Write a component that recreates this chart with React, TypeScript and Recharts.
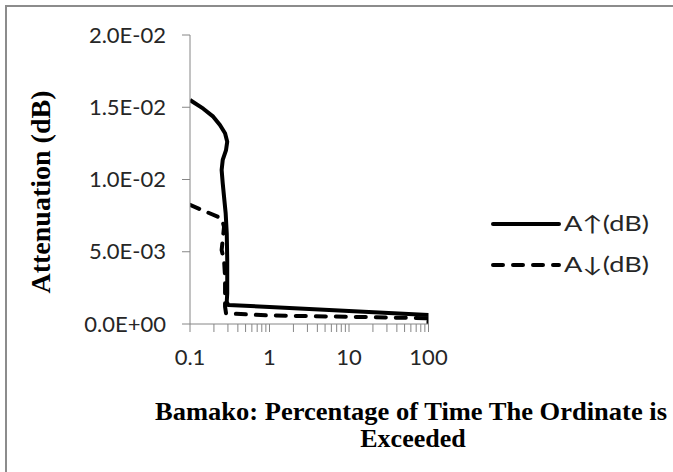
import React from "react"
import { LineChart, Line, XAxis, YAxis, Label } from "recharts"

// percentage of time (x) vs attenuation in dB (y)
const upPercent = [0.1, 0.147, 0.196, 0.238, 0.276, 0.294, 0.284, 0.258, 0.25, 0.258, 0.268, 0.281, 0.29, 0.294, 0.294, 0.29, 0.303, 1, 10, 100, 100]
const upAtten = [0.0155, 0.0149, 0.01435, 0.01377, 0.0132, 0.01262, 0.01204, 0.01135, 0.01066, 0.00974, 0.00881, 0.00766, 0.00628, 0.00443, 0.00212, 0.00154, 0.00131, 0.00118, 0.0009, 0.00062, 0]

const downPercent = [0.1, 0.25, 0.268, 0.258, 0.25, 0.268, 0.276, 0.276, 0.284, 1, 10, 100, 100]
const downAtten = [0.00824, 0.00731, 0.00673, 0.00581, 0.00512, 0.00443, 0.00327, 0.0012, 0.00074, 0.00059, 0.0005, 0.0004, 0]

const xTicks = [0.1, 0.2, 0.3, 0.4, 0.5, 0.6, 0.7, 0.8, 0.9, 1, 2, 3, 4, 5, 6, 7, 8, 9, 10, 20, 30, 40, 50, 60, 70, 80, 90, 100]
const xTickLabels = ["0.1", "1", "10", "100"]
const yTicks = [0, 0.005, 0.01, 0.015, 0.02]
const yTickLabels = ["0.0E+00", "5.0E-03", "1.0E-02", "1.5E-02", "2.0E-02"]

const seriesNames = ["A\u2191(dB)", "A\u2193(dB)"]

const upData = upPercent.map((p, i) => ({ p, a: upAtten[i] }))
const downData = downPercent.map((p, i) => ({ p, a: downAtten[i] }))

const AXIS = "#868686"
const TEXT = "#262626"
const TICK_FONT = "Lato, 'Open Sans', sans-serif"
const TITLE_FONT = "'Liberation Serif', 'Times New Roman', serif"

function XTick(props: any) {
  const { x, y, payload } = props
  const label = String(payload.value)
  if (!xTickLabels.includes(label)) return null
  return (
    <text x={x} y={y + 31} textAnchor="middle" fontFamily={TICK_FONT} fontSize={22} fill={TEXT}>
      {label}
    </text>
  )
}

function YTick(props: any) {
  const { x, y, payload } = props
  const i = yTicks.indexOf(payload.value)
  return (
    <text x={x - 14} y={y} dy="0.35em" textAnchor="end" fontFamily={TICK_FONT} fontSize={22} fill={TEXT}>
      {yTickLabels[i]}
    </text>
  )
}

function LegendBox() {
  return (
    <svg width={185} height={90} style={{ position: "absolute", left: 488, top: 200 }}>
      {seriesNames.map((name, i) => (
        <g key={name} transform={`translate(0, ${24 + i * 41})`}>
          <line x1={5} y1={0} x2={71} y2={0} stroke="#000" strokeWidth={4}
            strokeLinecap="round" strokeDasharray={i === 1 ? "10 10" : undefined} />
          <text x={76} y={0} dy="0.35em" fontFamily={TICK_FONT} fontSize={21} fill={TEXT}
            textLength={85} lengthAdjust="spacingAndGlyphs">
            {name}
          </text>
        </g>
      ))}
    </svg>
  )
}

export default function App() {
  return (
    <div style={{ position: "absolute", left: 0, top: 0, width: 673, height: 472, background: "#fff" }}>
      <div style={{ position: "absolute", left: 5, top: 5, width: 668, height: 467,
        borderTop: "2px solid #8c8c8c", borderLeft: "2px solid #8c8c8c" }} />
      <LineChart width={673} height={472} margin={{ top: 35, right: 244.5, left: 0, bottom: 108 }}>
        <XAxis
          type="number"
          dataKey="p"
          scale="log"
          domain={[0.1, 100]}
          ticks={xTicks}
          interval={0}
          allowDataOverflow
          height={40}
          stroke={AXIS}
          tickSize={8}
          tick={<XTick />}
        >
          <Label content={() => (
            <g fontFamily={TITLE_FONT} fontWeight="bold" fontSize={26} fill="#000" textAnchor="middle">
              <text x={411} y={420} textLength={512} lengthAdjust="spacingAndGlyphs">
                Bamako: Percentage of Time The Ordinate is
              </text>
              <text x={413} y={447}>Exceeded</text>
            </g>
          )} />
        </XAxis>
        <YAxis
          type="number"
          domain={[0, 0.02]}
          ticks={yTicks}
          interval={0}
          width={190}
          stroke={AXIS}
          tickSize={8}
          tick={<YTick />}
        >
          <Label content={() => (
            <text x={40} y={192} dy="0.35em" transform="rotate(-90 40 192)" textAnchor="middle"
              fontFamily={TITLE_FONT} fontWeight="bold" fontSize={28} fill="#000">
              Attenuation (dB)
            </text>
          )} />
        </YAxis>
        <Line data={upData} dataKey="a" name={seriesNames[0]} type="linear" stroke="#000"
          strokeWidth={4} dot={false} strokeLinejoin="round" isAnimationActive={false} />
        <Line data={downData} dataKey="a" name={seriesNames[1]} type="linear" stroke="#000"
          strokeWidth={4} dot={false} strokeDasharray="10 10" strokeLinecap="round"
          strokeLinejoin="round" isAnimationActive={false} />
      </LineChart>
      <LegendBox />
    </div>
  )
}
